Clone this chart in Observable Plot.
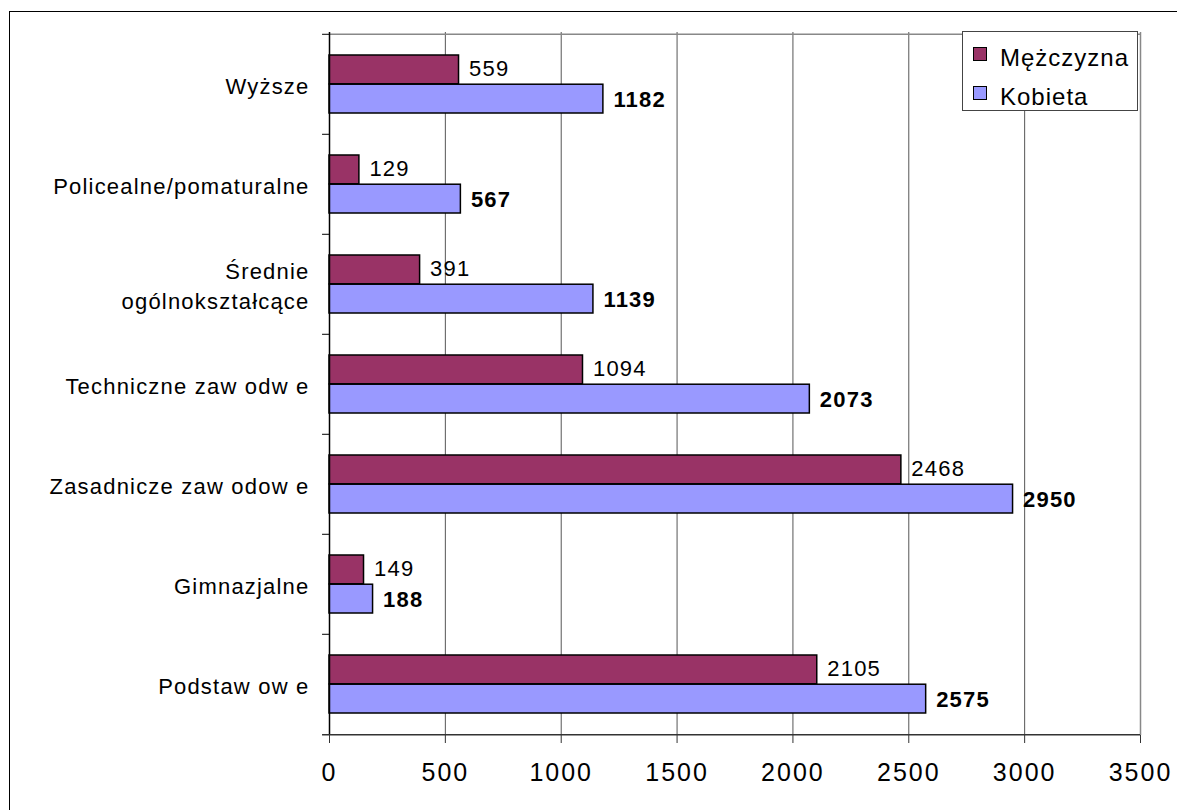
<!DOCTYPE html>
<html>
<head>
<meta charset="utf-8">
<script src="https://cdn.jsdelivr.net/npm/d3@7"></script>
<script src="https://cdn.jsdelivr.net/npm/@observablehq/plot@0.6"></script>
<style>
  html, body { margin: 0; padding: 0; background: #fff; overflow: hidden; }
  #wrap { position: relative; width: 1177px; height: 810px; overflow: hidden; font-family: "Liberation Sans", Arial, sans-serif; }
  #border { position: absolute; left: 9px; top: 11px; width: 1300px; height: 900px; border: 1.5px solid #000; box-sizing: border-box; }
  #chart { position: absolute; left: 0; top: 0; }
  #chart svg text { letter-spacing: 1.2px; }
  #chart svg g[aria-label="x-axis tick label"] text { letter-spacing: 2px; }
  #legend { position: absolute; left: 962px; top: 31px; width: 176px; height: 80px; background: #fff; border: 1px solid #444; box-sizing: border-box; }
  .sw { position: absolute; left: 10px; width: 14px; height: 14px; border: 1.5px solid #000; box-sizing: border-box; }
  .lt { position: absolute; left: 37px; font-size: 24px; letter-spacing: 1px; line-height: 24px; color: #000; }
</style>
</head>
<body>
<div id="wrap">
  <div id="border"></div>
  <div id="chart"></div>
  <div id="legend"></div>
</div>
<script>
// Data
const categories = ["Wyższe", "Policealne/pomaturalne", "Średnie\nogólnokształcące", "Techniczne zaw odw e", "Zasadnicze zaw odow e", "Gimnazjalne", "Podstaw ow e"];
const mezczyzna = [559, 129, 391, 1094, 2468, 149, 2105];
const kobieta = [1182, 567, 1139, 2073, 2950, 188, 2575];
const seriesNames = ["Mężczyzna", "Kobieta"];
const seriesColors = ["#993366", "#9999FF"];
const xTicks = [0, 500, 1000, 1500, 2000, 2500, 3000, 3500];

const W = 1177, H = 810, mt = 32, mb = 75, ml = 329, mr = 37;
const band = (H - mt - mb) / categories.length;
const half = band / 2;
const inset = 21;

const rowsM = categories.map((c, i) => ({cat: c, v: mezczyzna[i]}));
const rowsK = categories.map((c, i) => ({cat: c, v: kobieta[i]}));
const last = categories[categories.length - 1];
const first = categories[0];

const chart = Plot.plot({
  width: W, height: H,
  marginTop: mt, marginBottom: mb, marginLeft: ml, marginRight: mr,
  style: {fontFamily: '"Liberation Sans", Arial, sans-serif', background: "transparent", color: "#000"},
  x: {domain: [0, 3500], axis: null},
  y: {domain: categories, padding: 0, axis: null},
  marks: [
    // gridlines
    Plot.ruleX(xTicks.slice(1, -1), {stroke: "#555", strokeWidth: 1}),
    // top & right frame lines (gray)
    Plot.ruleY([first], {y: d => d, x1: 0, x2: 3500, dy: -half, stroke: "#888", strokeWidth: 1.5}),
    Plot.ruleX([3500], {stroke: "#888", strokeWidth: 1.5}),
    // bars
    Plot.barX(rowsM, {y: "cat", x: "v", fill: seriesColors[0], stroke: "#000", strokeWidth: 1.5, insetTop: inset, insetBottom: half}),
    Plot.barX(rowsK, {y: "cat", x: "v", fill: seriesColors[1], stroke: "#000", strokeWidth: 1.5, insetTop: half, insetBottom: inset}),
    // left axis line
    Plot.ruleX([0], {stroke: "#000", strokeWidth: 1.5}),
    // category boundary ticks
    Plot.ruleY(categories, {y: d => d, x1: -30, x2: 0, dy: -half, stroke: "#000", strokeWidth: 1}),
    // bottom axis line
    Plot.ruleY([last], {y: d => d, x1: -30, x2: 3500, dy: half, stroke: "#333", strokeWidth: 1.5}),
    // x axis
    Plot.axisX({ticks: xTicks, label: null, tickSize: 8, tickPadding: 20, fontSize: 25, tickFormat: d => String(d), stroke: "#333", fill: "#000"}),
    // category labels
    Plot.text(categories, {y: d => d, frameAnchor: "left", dx: -20, textAnchor: "end", fontSize: 22, lineHeight: 1.36, fill: "#000"}),
    // value labels
    Plot.text(rowsM, {y: "cat", x: "v", text: d => String(d.v), dx: 10, dy: -(half - inset) / 2 - 0.5, textAnchor: "start", fontSize: 22, fill: "#000"}),
    Plot.text(rowsK, {y: "cat", x: "v", text: d => String(d.v), dx: 10, dy: (half - inset) / 2 + 0.5, textAnchor: "start", fontSize: 22, fontWeight: "bold", fill: "#000"})
  ]
});
document.getElementById("chart").appendChild(chart);

// legend
const legend = document.getElementById("legend");
const swTops = [15, 54];
const txtTops = [14, 53];
seriesNames.forEach((name, i) => {
  const sw = document.createElement("div");
  sw.className = "sw";
  sw.style.top = swTops[i] + "px";
  sw.style.background = seriesColors[i];
  legend.appendChild(sw);
  const t = document.createElement("div");
  t.className = "lt";
  t.style.top = txtTops[i] + "px";
  t.textContent = name;
  legend.appendChild(t);
});
</script>
</body>
</html>
